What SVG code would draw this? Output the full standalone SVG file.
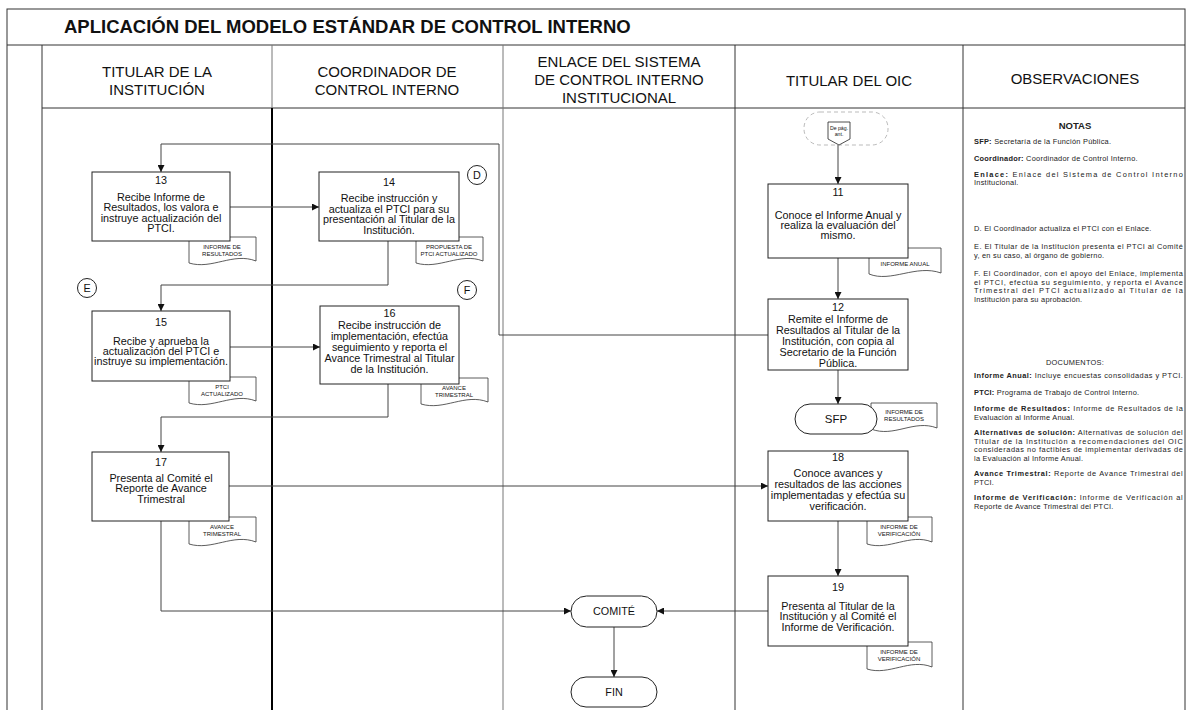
<svg xmlns="http://www.w3.org/2000/svg" width="1186" height="710" viewBox="0 0 1186 710">
<defs>
<marker id="arr" viewBox="0 0 10 10" refX="10" refY="5" markerWidth="7" markerHeight="7" markerUnits="userSpaceOnUse" orient="auto">
<path d="M0,0 L10,5 L0,10 Z" fill="#111"/>
</marker>
<style>
.frame{fill:none;stroke:#333;stroke-width:1}
.lane{stroke:#333;stroke-width:1}
.lane2{stroke:#777;stroke-width:1}
.thick{stroke:#000;stroke-width:2}
.box{fill:#fff;stroke:#222;stroke-width:1}
.conn{fill:none;stroke:#444;stroke-width:1}
.doc{fill:#fff;stroke:#333;stroke-width:0.8}
.term{fill:#fff;stroke:#222;stroke-width:1}
text{font-family:"Liberation Sans",Arial,sans-serif;fill:#111}
.h{font-size:15px;text-anchor:middle}
.title{font-size:18.5px;font-weight:bold}
.t{font-size:10.8px;text-anchor:middle}
.dt{font-size:6px;text-anchor:middle}
.obs{font-size:7.4px;letter-spacing:0.25px;fill:#222}
.b{font-weight:bold}
</style>
</defs>

<g id="frame">
<rect class="frame" x="7" y="9" width="1178" height="720"/>
<line class="frame" x1="7" y1="45" x2="1185" y2="45"/>
<line class="frame" x1="42" y1="108" x2="1185" y2="108"/>
<text class="title" x="64" y="33">APLICACIÓN DEL MODELO ESTÁNDAR DE CONTROL INTERNO</text>
<line class="lane" x1="42" y1="45" x2="42" y2="710"/>
<line class="lane2" x1="272" y1="45" x2="272" y2="108"/>
<line class="thick" x1="272" y1="108" x2="272" y2="710"/>
<line class="lane2" x1="503" y1="45" x2="503" y2="710"/>
<line class="lane" x1="735" y1="45" x2="735" y2="710"/>
<line class="lane" x1="963" y1="45" x2="963" y2="710"/>
</g>

<g id="headers">
<text class="h" x="157" y="77">TITULAR DE LA</text>
<text class="h" x="157" y="95">INSTITUCIÓN</text>
<text class="h" x="387" y="77">COORDINADOR DE</text>
<text class="h" x="387" y="95">CONTROL INTERNO</text>
<text class="h" x="619" y="67">ENLACE DEL SISTEMA</text>
<text class="h" x="619" y="85">DE CONTROL INTERNO</text>
<text class="h" x="619" y="103">INSTITUCIONAL</text>
<text class="h" x="849" y="86">TITULAR DEL OIC</text>
<text class="h" x="1075" y="84">OBSERVACIONES</text>
</g>

<g id="connectors">
<polyline class="conn" points="838,145 838,184" marker-end="url(#arr)"/>
<polyline class="conn" points="838,258 838,299" marker-end="url(#arr)"/>
<polyline class="conn" points="838,370 838,404" marker-end="url(#arr)"/>
<polyline class="conn" points="768,335 499,335 499,144 161,144 161,172" marker-end="url(#arr)"/>
<polyline class="conn" points="230,207 319,207" marker-end="url(#arr)"/>
<polyline class="conn" points="388,241 388,285 161,285 161,311" marker-end="url(#arr)"/>
<polyline class="conn" points="230,347 320,347" marker-end="url(#arr)"/>
<polyline class="conn" points="388,384 388,417 161,417 161,452" marker-end="url(#arr)"/>
<polyline class="conn" points="229,486 768,486" marker-end="url(#arr)"/>
<polyline class="conn" points="838,521 838,576" marker-end="url(#arr)"/>
<polyline class="conn" points="161,521 161,611 571,611" marker-end="url(#arr)"/>
<polyline class="conn" points="768,611 657,611" marker-end="url(#arr)"/>
<polyline class="conn" points="614,627 614,677" marker-end="url(#arr)"/>
</g>

<g id="offpage">
<rect x="804" y="112" width="84" height="33" rx="16" fill="none" stroke="#aaa" stroke-width="0.8" stroke-dasharray="4,3"/>
<path d="M828,122 H850 V139 L839,145 L828,139 Z" fill="#fff" stroke="#222" stroke-width="0.8"/>
<text class="dt" x="839" y="130" style="font-size:5.2px">De pág.</text>
<text class="dt" x="839" y="136" style="font-size:5.2px">ant.</text>
</g>

<g id="n11">
<path class="doc" d="M869,248 H941 V273 C916,264 891,283 869,274 Z"/>
<text class="dt" x="905" y="266">INFORME ANUAL</text>
<rect class="box" x="768" y="184" width="140" height="74"/>
<text class="t" x="838" y="195.5">11</text>
<text class="t" x="838" y="218.5">Conoce el Informe Anual y</text>
<text class="t" x="838" y="228.5">realiza la evaluación del</text>
<text class="t" x="838" y="238.5">mismo.</text>
</g>

<g id="n12">
<rect class="box" x="768" y="299" width="140" height="71"/>
<text class="t" x="838" y="311">12</text>
<text class="t" x="838" y="323">Remite el Informe de</text>
<text class="t" x="838" y="334">Resultados al Titular de la</text>
<text class="t" x="838" y="345">Institución, con copia al</text>
<text class="t" x="838" y="356">Secretario de la Función</text>
<text class="t" x="838" y="367">Pública.</text>
</g>

<g id="sfp">
<path class="doc" d="M871,403 H937 V428 C914,419 894,438 871,429 Z"/>
<text class="dt" x="904" y="414">INFORME DE</text>
<text class="dt" x="904" y="421">RESULTADOS</text>
<rect class="term" x="795" y="404" width="82" height="30" rx="15"/>
<text class="t" x="836" y="423" style="font-size:11.5px">SFP</text>
</g>

<g id="n13">
<path class="doc" d="M189,237 H256 V261 C233,252 212,270 189,263 Z"/>
<text class="dt" x="222" y="249">INFORME DE</text>
<text class="dt" x="222" y="256">RESULTADOS</text>
<rect class="box" x="92" y="172" width="138" height="69"/>
<text class="t" x="161" y="183.5">13</text>
<text class="t" x="161" y="200.5">Recibe Informe de</text>
<text class="t" x="161" y="211">Resultados, los valora e</text>
<text class="t" x="161" y="221.5">instruye actualización del</text>
<text class="t" x="161" y="232">PTCI.</text>
</g>

<g id="n14">
<path class="doc" d="M416,237 H483 V261 C460,252 439,270 416,263 Z"/>
<text class="dt" x="449" y="249">PROPUESTA DE</text>
<text class="dt" x="449" y="256">PTCI ACTUALIZADO</text>
<rect class="box" x="319" y="172" width="140" height="69"/>
<text class="t" x="389" y="185.5">14</text>
<text class="t" x="389" y="202">Recibe instrucción y</text>
<text class="t" x="389" y="212.5">actualiza el PTCI para su</text>
<text class="t" x="389" y="223">presentación al Titular de la</text>
<text class="t" x="389" y="233.5">Institución.</text>
</g>

<g id="circD">
<circle cx="477" cy="175" r="9.5" fill="#fff" stroke="#222" stroke-width="1"/>
<text class="t" x="477" y="178.5">D</text>
</g>
<g id="circE">
<circle cx="87" cy="288" r="9.5" fill="#fff" stroke="#222" stroke-width="1"/>
<text class="t" x="87" y="291.5">E</text>
</g>
<g id="circF">
<circle cx="467" cy="290" r="9.5" fill="#fff" stroke="#222" stroke-width="1"/>
<text class="t" x="467" y="293.5">F</text>
</g>

<g id="n15">
<path class="doc" d="M189,377 H256 V401 C233,392 212,410 189,403 Z"/>
<text class="dt" x="222" y="389">PTCI</text>
<text class="dt" x="222" y="396">ACTUALIZADO</text>
<rect class="box" x="92" y="311" width="138" height="70"/>
<text class="t" x="161" y="325.5">15</text>
<text class="t" x="161" y="345">Recibe y aprueba la</text>
<text class="t" x="161" y="355">actualización del PTCI e</text>
<text class="t" x="161" y="365">instruye su implementación.</text>
</g>

<g id="n16">
<path class="doc" d="M421,378 H488 V402 C465,393 444,411 421,404 Z"/>
<text class="dt" x="454" y="390">AVANCE</text>
<text class="dt" x="454" y="397">TRIMESTRAL</text>
<rect class="box" x="320" y="306" width="139" height="78"/>
<text class="t" x="389.5" y="317">16</text>
<text class="t" x="389.5" y="329">Recibe instrucción de</text>
<text class="t" x="389.5" y="340">implementación, efectúa</text>
<text class="t" x="389.5" y="351">seguimiento y reporta el</text>
<text class="t" x="389.5" y="362">Avance Trimestral al Titular</text>
<text class="t" x="389.5" y="373">de la Institución.</text>
</g>

<g id="n17">
<path class="doc" d="M189,517 H256 V542 C233,533 212,551 189,544 Z"/>
<text class="dt" x="222" y="529">AVANCE</text>
<text class="dt" x="222" y="536">TRIMESTRAL</text>
<rect class="box" x="92" y="452" width="137" height="69"/>
<text class="t" x="161" y="465.5">17</text>
<text class="t" x="161" y="481.5">Presenta al Comité el</text>
<text class="t" x="161" y="492">Reporte de Avance</text>
<text class="t" x="161" y="502.5">Trimestral</text>
</g>

<g id="n18">
<path class="doc" d="M867,517 H932 V542 C910,533 889,551 867,544 Z"/>
<text class="dt" x="899" y="529">INFORME DE</text>
<text class="dt" x="899" y="536">VERIFICACIÓN</text>
<rect class="box" x="768" y="451" width="140" height="70"/>
<text class="t" x="838" y="460.5">18</text>
<text class="t" x="838" y="476.5">Conoce avances y</text>
<text class="t" x="838" y="487.5">resultados de las acciones</text>
<text class="t" x="838" y="498.5">implementadas y efectúa su</text>
<text class="t" x="838" y="509.5">verificación.</text>
</g>

<g id="n19">
<path class="doc" d="M867,642 H932 V667 C910,658 889,676 867,669 Z"/>
<text class="dt" x="899" y="654">INFORME DE</text>
<text class="dt" x="899" y="661">VERIFICACIÓN</text>
<rect class="box" x="768" y="576" width="140" height="70"/>
<text class="t" x="838" y="590.5">19</text>
<text class="t" x="838" y="609.5">Presenta al Titular de la</text>
<text class="t" x="838" y="620">Institución y al Comité el</text>
<text class="t" x="838" y="630.5">Informe de Verificación.</text>
</g>

<g id="comite">
<rect class="term" x="571" y="596" width="86" height="31" rx="15.5"/>
<text class="t" x="614" y="615">COMITÉ</text>
</g>
<g id="fin">
<rect class="term" x="571" y="677" width="86" height="30" rx="15"/>
<text class="t" x="614" y="696">FIN</text>
</g>

<g id="observaciones">
<text class="obs b" x="1075" y="128.5" style="font-size:9.5px;letter-spacing:0;text-anchor:middle">NOTAS</text>
<text class="obs" x="974" y="143.5"><tspan class="b">SFP:</tspan> Secretaría de la Función Pública.</text>
<text class="obs" x="974" y="160.5"><tspan class="b">Coordinador:</tspan> Coordinador de Control Interno.</text>
<text class="obs" x="974" y="176.5" textLength="209" lengthAdjust="spacing"><tspan class="b">Enlace:</tspan> Enlace del Sistema de Control Interno</text>
<text class="obs" x="974" y="185">Institucional.</text>
<text class="obs" x="974" y="230.5">D. El Coordinador actualiza el PTCI con el Enlace.</text>
<text class="obs" x="974" y="248.5" textLength="209" lengthAdjust="spacing">E. El Titular de la Institución presenta el PTCI al Comité</text>
<text class="obs" x="974" y="257.5">y, en su caso, al órgano de gobierno.</text>
<text class="obs" x="974" y="275.5" textLength="209" lengthAdjust="spacing">F. El Coordinador, con el apoyo del Enlace, implementa</text>
<text class="obs" x="974" y="284.5" textLength="209" lengthAdjust="spacing">el PTCI, efectúa su seguimiento, y reporta el Avance</text>
<text class="obs" x="974" y="293" textLength="209" lengthAdjust="spacing">Trimestral del PTCI actualizado al Titular de la</text>
<text class="obs" x="974" y="301.5">Institución para su aprobación.</text>
<text class="obs" x="1075" y="364.5" style="text-anchor:middle">DOCUMENTOS:</text>
<text class="obs" x="974" y="377.5" textLength="209" lengthAdjust="spacing"><tspan class="b">Informe Anual:</tspan> Incluye encuestas consolidadas y PTCI.</text>
<text class="obs" x="974" y="394.5"><tspan class="b">PTCI:</tspan> Programa de Trabajo de Control Interno.</text>
<text class="obs" x="974" y="410.5" textLength="209" lengthAdjust="spacing"><tspan class="b">Informe de Resultados:</tspan> Informe de Resultados de la</text>
<text class="obs" x="974" y="419.5">Evaluación al Informe Anual.</text>
<text class="obs" x="974" y="434.5" textLength="209" lengthAdjust="spacing"><tspan class="b">Alternativas de solución:</tspan> Alternativas de solución del</text>
<text class="obs" x="974" y="443.5" textLength="209" lengthAdjust="spacing">Titular de la Institución a recomendaciones del OIC</text>
<text class="obs" x="974" y="452" textLength="209" lengthAdjust="spacing">consideradas no factibles de implementar derivadas de</text>
<text class="obs" x="974" y="460.5">la Evaluación al Informe Anual.</text>
<text class="obs" x="974" y="475.5" textLength="209" lengthAdjust="spacing"><tspan class="b">Avance Trimestral:</tspan> Reporte de Avance Trimestral del</text>
<text class="obs" x="974" y="484.5">PTCI.</text>
<text class="obs" x="974" y="499.5" textLength="209" lengthAdjust="spacing"><tspan class="b">Informe de Verificación:</tspan> Informe de Verificación al</text>
<text class="obs" x="974" y="508.5">Reporte de Avance Trimestral del PTCI.</text>
</g>
</svg>
